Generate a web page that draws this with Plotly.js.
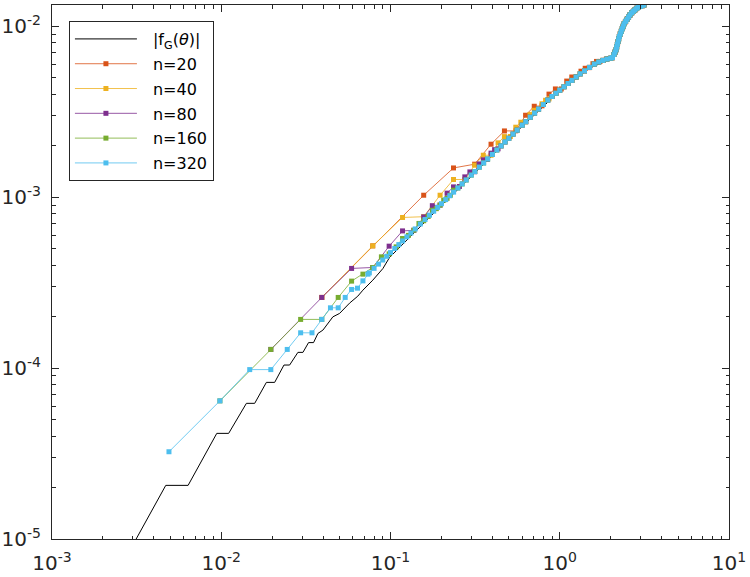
<!DOCTYPE html>
<html>
<head>
<meta charset="utf-8">
<script src="https://cdn.plot.ly/plotly-3.0.1.min.js"></script>
<style>html,body{margin:0;padding:0;background:#fff;}#plot{width:750px;height:577px;}</style>
</head>
<body>
<div id="plot"></div>
<script>
// ---- data ----
const seriesNames = ['|f<sub>G</sub>(<i>θ</i>)|', 'n=20', 'n=40', 'n=80', 'n=160', 'n=320'];

const blackX = [0.00305,0.0047,0.00637,0.00941,0.01106,0.01408,0.01576,0.01848,0.02068,0.02347,0.02535,0.02838,0.03039,0.0328,0.0351,0.03725,0.03987,0.04567,0.05002,0.0573,0.0641,0.0687,0.0786,0.0901,0.0987,0.12,0.15,0.2,0.3,0.5,1.0,1.5,2.05,2.2,2.4,2.8,3.1416];
const blackY = [9.48e-6,2.06e-5,2.06e-5,4.15e-5,4.15e-5,6.22e-5,6.22e-5,8.25e-5,8.25e-5,1.042e-4,1.042e-4,1.236e-4,1.236e-4,1.41e-4,1.41e-4,1.595e-4,1.668e-4,1.995e-4,2.089e-4,2.40e-4,2.636e-4,2.858e-4,3.27e-4,3.82e-4,4.44e-4,5.41e-4,6.78e-4,8.95e-4,1.322e-3,2.186e-3,4.19e-3,5.69e-3,6.5e-3,8.0e-3,1.035e-2,1.26e-2,1.332e-2];

// common dense band where all approximations overlap
const bandX = [0.075,0.08,0.085,0.09,0.095,0.1,0.106,0.112,0.118,0.125,0.132,0.14,0.15,0.16,0.17,0.18,0.19,0.2,0.212,0.224,0.236,0.25,0.265,0.28,0.3,0.315,0.335,0.355,0.375,0.4,0.425,0.45,0.475,0.5,0.53,0.56,0.6,0.63,0.67,0.71,0.75,0.8,0.85,0.9,0.95,1.0,1.06,1.12,1.18,1.25,1.32,1.4,1.5,1.6,1.7,1.8,1.9,2.0,2.05,2.09,2.12,2.15,2.17,2.19,2.21,2.23,2.25,2.28,2.31,2.34,2.37,2.4,2.45,2.5,2.55,2.6,2.66,2.72,2.78,2.85,2.92,3.0,3.07,3.1416];
const bandY = [3.607e-4,3.835e-4,4.06e-4,4.29e-4,4.51e-4,4.74e-4,5.01e-4,5.28e-4,5.55e-4,5.86e-4,6.17e-4,6.52e-4,6.97e-4,7.41e-4,7.85e-4,8.28e-4,8.72e-4,9.16e-4,9.68e-4,1.020e-3,1.071e-3,1.132e-3,1.196e-3,1.261e-3,1.347e-3,1.413e-3,1.499e-3,1.586e-3,1.673e-3,1.780e-3,1.888e-3,1.996e-3,2.104e-3,2.211e-3,2.340e-3,2.468e-3,2.639e-3,2.766e-3,2.937e-3,3.107e-3,3.276e-3,3.487e-3,3.700e-3,3.885e-3,4.057e-3,4.227e-3,4.428e-3,4.628e-3,4.825e-3,5.052e-3,5.27e-3,5.484e-3,5.747e-3,6.006e-3,6.183e-3,6.315e-3,6.43e-3,6.505e-3,6.56e-3,6.84e-3,7.053e-3,7.29e-3,7.57e-3,7.85e-3,8.145e-3,8.445e-3,8.72e-3,9.03e-3,9.35e-3,9.68e-3,1.001e-2,1.035e-2,1.068e-2,1.100e-2,1.133e-2,1.166e-2,1.198e-2,1.223e-2,1.247e-2,1.275e-2,1.294e-2,1.308e-2,1.320e-2,1.332e-2];

const n20X = [0.03927,0.07854,0.1571,0.2356,0.3142,0.3927,0.4712,0.5498,0.6283,0.7069,0.7854,0.8639,0.9425,1.021,1.0996,1.1781,1.2566,1.3352,1.4137,1.4923,1.5708,1.6493,1.7279,1.8064,1.885,1.9635,2.042,2.1206,2.1991,2.2777,2.3562,2.4347,2.5133,2.5918,2.6704,2.7489,2.8274,2.906,2.9845,3.063,3.1416];
const n20Y = [2.591e-4,5.19e-4,1.027e-3,1.483e-3,1.56e-3,2.042e-3,2.442e-3,2.445e-3,3.017e-3,3.405e-3,3.425e-3,4.01e-3,4.30e-3,4.30e-3,4.78e-3,5.05e-3,5.07e-3,5.46e-3,5.68e-3,5.73e-3,6.04e-3,6.23e-3,6.23e-3,6.32e-3,6.42e-3,6.48e-3,6.54e-3,7.06e-3,7.99e-3,9.01e-3,9.86e-3,1.058e-2,1.109e-2,1.161e-2,1.203e-2,1.235e-2,1.266e-2,1.291e-2,1.305e-2,1.319e-2,1.332e-2];

const n40X = [0.03927,0.07854,0.1178,0.1571,0.1963,0.2356,0.2749,0.3142,0.3534,0.3927,0.432,0.4712,0.5105,0.5498,0.589,0.6283,0.6676,0.7069,0.7461,0.7854,0.8247,0.8639];
const n40Y = [2.591e-4,5.19e-4,7.61e-4,7.69e-4,1.027e-3,1.269e-3,1.27e-3,1.539e-3,1.76e-3,1.76e-3,2.08e-3,2.262e-3,2.265e-3,2.568e-3,2.746e-3,2.76e-3,3.05e-3,3.225e-3,3.26e-3,3.52e-3,3.69e-3,3.76e-3];

const n80X = [0.01963,0.03927,0.0589,0.07854,0.09817,0.1178,0.1374,0.1571,0.1767,0.1963,0.216,0.2356,0.2553,0.2749,0.2945,0.3142,0.3338,0.3534,0.3731,0.3927,0.4123,0.432];
const n80Y = [1.286e-4,2.591e-4,3.83e-4,3.88e-4,5.17e-4,6.35e-4,6.4e-4,7.67e-4,8.92e-4,8.99e-4,1.056e-3,1.149e-3,1.155e-3,1.315e-3,1.406e-3,1.409e-3,1.565e-3,1.654e-3,1.664e-3,1.81e-3,1.898e-3,1.919e-3];

const n160X = [0.00982,0.01963,0.02945,0.03927,0.04909,0.0589,0.06872,0.07854,0.08836,0.09817,0.108,0.1178,0.1276,0.1374,0.1473,0.1571,0.1669,0.1767,0.1865,0.1963,0.2062,0.216,0.2258,0.2356];
const n160Y = [6.43e-5,1.286e-4,1.927e-4,1.927e-4,2.591e-4,3.228e-4,3.546e-4,3.88e-4,4.477e-4,4.66e-4,5.12e-4,5.73e-4,5.98e-4,6.41e-4,7.02e-4,7.28e-4,7.71e-4,8.39e-4,8.57e-4,8.99e-4,9.6e-4,9.85e-4,1.027e-3,1.099e-3];

const n320X = [0.00491,0.00982,0.01473,0.01963,0.02454,0.02945,0.03436,0.03927,0.04418,0.04909,0.054,0.0589,0.06381,0.06872,0.07363];
const n320Y = [3.24e-5,6.43e-5,9.8e-5,9.8e-5,1.286e-4,1.609e-4,1.609e-4,1.927e-4,2.253e-4,2.253e-4,2.591e-4,2.885e-4,2.936e-4,3.24e-4,3.546e-4];

const xTickVals = [1e-3, 1e-2, 1e-1, 1, 10];
const xTickText = ['10<sup>-3</sup>', '10<sup>-2</sup>', '10<sup>-1</sup>', '10<sup>0</sup>', '10<sup>1</sup>'];
const yTickVals = [1e-5, 1e-4, 1e-3, 1e-2];
const yTickText = ['10<sup>-5</sup>', '10<sup>-4</sup>', '10<sup>-3</sup>', '10<sup>-2</sup>'];

// ---- helpers ----
function withBand(xs, ys, after) {
  const X = xs.slice(), Y = ys.slice();
  for (let i = 0; i < bandX.length; i++) {
    if (bandX[i] > after) { X.push(bandX[i]); Y.push(bandY[i]); }
  }
  return [X, Y];
}
function minorVals(d0, d1) {
  const v = [];
  for (let d = d0; d < d1; d++) for (let m = 2; m <= 9; m++) v.push(m * Math.pow(10, d));
  return v;
}

const colors = ['#000000', '#D95319', '#EDB120', '#7E2F8E', '#77AC30', '#4DBEEE'];
const font = 'DejaVu Sans, Arial, sans-serif';
const axisColor = '#262626';

const s40 = withBand(n40X, n40Y, 0.87);
const s80 = withBand(n80X, n80Y, 0.44);
const s160 = withBand(n160X, n160Y, 0.24);
const s320 = withBand(n320X, n320Y, 0.074);

function markerTrace(i, X, Y) {
  return {
    x: X, y: Y, name: seriesNames[i], legendgroup: 'g' + i,
    type: 'scatter', mode: 'lines+markers',
    line: {color: colors[i], width: 0.8},
    marker: {color: colors[i], symbol: 'square', size: 5, line: {width: 0}}
  };
}

const traces = [
  {x: blackX, y: blackY, name: seriesNames[0], legendgroup: 'g0', type: 'scatter', mode: 'lines',
   line: {color: colors[0], width: 1}},
  markerTrace(1, n20X, n20Y),
  markerTrace(2, s40[0], s40[1]),
  markerTrace(3, s80[0], s80[1]),
  markerTrace(4, s160[0], s160[1]),
  markerTrace(5, s320[0], s320[1])
];

function axis(range, tv, tt, minor, standoff) {
  return {
    type: 'log', range: range, autorange: false,
    tickmode: 'array', tickvals: tv, ticktext: tt,
    ticks: 'inside', ticklen: 7, tickwidth: 1, tickcolor: axisColor,
    showline: true, linecolor: axisColor, linewidth: 1, mirror: 'ticks',
    showgrid: false, zeroline: false, ticklabelstandoff: standoff,
    tickfont: {family: font, size: 20, color: axisColor},
    minor: {tickmode: 'array', tickvals: minor, ticks: 'inside', ticklen: 3.5,
            tickwidth: 1, tickcolor: axisColor, showgrid: false}
  };
}

const layout = {
  width: 750, height: 577,
  margin: {l: 52, r: 21, t: 5, b: 38, pad: 0},
  paper_bgcolor: '#ffffff', plot_bgcolor: '#ffffff',
  font: {family: font, color: axisColor},
  xaxis: axis([-3, 1], xTickVals, xTickText, minorVals(-3, 1), 6),
  yaxis: axis([-5, -1.8754], yTickVals, yTickText, minorVals(-5, -1), 6),
  showlegend: true,
  legend: {
    x: 0.025, y: 0.97, xanchor: 'left', yanchor: 'top',
    bgcolor: '#ffffff', bordercolor: axisColor, borderwidth: 1,
    font: {family: font, size: 16, color: '#000000'},
    itemwidth: 73, tracegroupgap: 1, traceorder: 'grouped'
  }
};

Plotly.newPlot('plot', traces, layout, {staticPlot: true, displayModeBar: false}).then(function (gd) {
  // lengthen the legend line samples (MATLAB style) and centre the markers on them
  gd.querySelectorAll('.legend .legendlines path').forEach(function (p) {
    p.setAttribute('d', 'M5,0h62');
  });
  gd.querySelectorAll('.legend .legendsymbols path.scatterpts').forEach(function (p) {
    p.setAttribute('transform', 'translate(36,0)');
  });
});
</script>
</body>
</html>
